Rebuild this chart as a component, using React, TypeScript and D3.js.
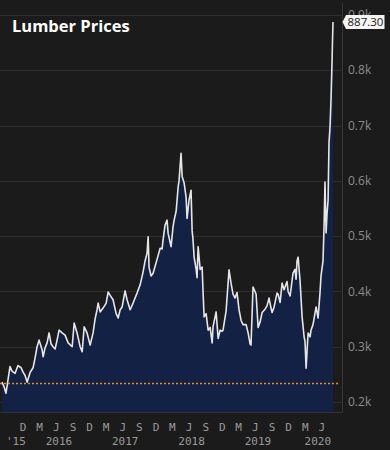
import React from "react";
import * as d3 from "d3";

const dates: string[] = [
  "2015-08-07","2015-08-18","2015-08-29","2015-09-09","2015-09-20","2015-10-01","2015-10-18","2015-11-03","2015-11-20","2015-12-01",
  "2015-12-12","2015-12-23","2016-01-09","2016-01-25","2016-02-05","2016-02-16","2016-02-27","2016-03-15","2016-03-20","2016-03-31",
  "2016-04-11","2016-04-22","2016-05-03","2016-05-14","2016-05-25","2016-06-05","2016-06-16","2016-07-03","2016-07-19","2016-08-05",
  "2016-08-27","2016-09-07","2016-09-23","2016-10-10","2016-10-21","2016-11-01","2016-11-17","2016-12-04","2016-12-20","2016-12-31",
  "2017-01-11","2017-01-17","2017-01-28","2017-02-13","2017-03-02","2017-03-13","2017-03-24","2017-04-09","2017-04-26","2017-05-07",
  "2017-05-18","2017-05-29","2017-06-14","2017-06-25","2017-07-12","2017-07-28","2017-08-19","2017-09-05","2017-09-21","2017-10-02",
  "2017-10-13","2017-10-19","2017-10-24","2017-11-04","2017-11-15","2017-11-26","2017-12-07","2017-12-24","2018-01-04","2018-01-09",
  "2018-01-20","2018-01-31","2018-02-06","2018-02-22","2018-03-05","2018-03-11","2018-03-22","2018-04-02","2018-04-07","2018-04-18",
  "2018-04-24","2018-05-05","2018-05-16","2018-05-21","2018-06-01","2018-06-12","2018-06-18","2018-06-23","2018-06-29","2018-07-10",
  "2018-07-15","2018-07-21","2018-08-01","2018-08-12","2018-08-17","2018-08-23","2018-09-03","2018-09-14","2018-09-25","2018-10-06",
  "2018-10-11","2018-10-28","2018-11-08","2018-11-19","2018-11-30","2018-12-05","2018-12-22","2019-01-07","2019-01-18","2019-01-29",
  "2019-02-09","2019-02-20","2019-03-03","2019-03-14","2019-03-25","2019-04-11","2019-04-22","2019-05-03","2019-05-08","2019-05-19",
  "2019-05-30","2019-06-05","2019-06-16","2019-06-27","2019-07-08","2019-07-24","2019-08-04","2019-08-15","2019-08-26","2019-09-01",
  "2019-09-12","2019-09-28","2019-10-04","2019-10-15","2019-10-26","2019-11-06","2019-11-11","2019-11-22","2019-11-28","2019-12-09",
  "2019-12-25","2020-01-05","2020-01-11","2020-01-16","2020-01-22","2020-02-02","2020-02-13","2020-02-24","2020-02-29","2020-03-06",
  "2020-03-11","2020-03-17","2020-03-28","2020-04-02","2020-04-13","2020-04-30","2020-05-11","2020-05-22","2020-05-27","2020-06-07",
  "2020-06-13","2020-06-18","2020-06-24","2020-06-29","2020-07-05","2020-07-10","2020-07-16","2020-07-21","2020-07-27","2020-07-29",
  "2020-08-01"
];

const prices: number[] = [
  236,228,216,240,264,256,252,266,262,254,
  248,236,254,262,280,300,312,294,282,298,
  307,325,305,300,296,312,330,325,321,307,
  300,343,325,300,291,336,325,303,325,350,
  367,379,363,370,379,399,393,385,360,352,
  367,372,401,385,367,379,397,412,435,455,
  469,499,444,428,433,445,458,478,477,493,
  520,529,505,481,517,529,545,589,600,650,
  608,596,570,532,565,583,510,493,462,440,
  425,481,440,444,400,354,360,330,335,307,
  336,363,315,330,328,330,365,439,415,395,
  388,398,367,348,340,340,325,305,303,408,
  400,395,335,345,362,368,374,388,370,362,
  372,397,395,380,415,403,408,418,400,392,
  433,440,422,455,462,418,354,318,310,261,
  290,325,318,330,340,372,352,400,428,455,
  520,598,506,540,565,669,700,746,819,850,
  887.3
];

const yTicks: number[] = [200, 300, 400, 500, 600, 700, 800, 900];
const yearLabels: string[] = ["'15", "2016", "2017", "2018", "2019", "2020"];
const referenceLevel = 235;
const title = "Lumber Prices";

const W = 390;
const H = 450;

export default function App() {
  const parse = d3.timeParse("%Y-%m-%d");
  const data = dates.map((d, i) => ({ date: parse(d) as Date, value: prices[i] }));
  const plotLeft = 0;
  const axisX = 342.5;
  const top = 15;
  const bottom = 412;

  const x = d3
    .scaleTime()
    .domain(d3.extent(data, (d) => d.date) as [Date, Date])
    .range([2, 333]);
  const y = d3.scaleLinear().domain([182, 900]).range([bottom, top]);

  const area = d3
    .area<{ date: Date; value: number }>()
    .x((d) => x(d.date))
    .y0(bottom)
    .y1((d) => y(d.value));
  const line = d3
    .line<{ date: Date; value: number }>()
    .x((d) => x(d.date))
    .y((d) => y(d.value));

  const [d0, d1] = x.domain();
  const months = d3
    .timeMonth.range(d0, d1)
    .filter((m) => m.getMonth() % 3 === 2 && x(m) > 12);
  const monthFmt = d3.timeFormat("%b");

  const firstYear = d0.getFullYear();
  const last = data[data.length - 1];

  const monoFont = "'DejaVu Sans Mono', monospace";
  const sansFont = "'Open Sans', 'Noto Sans', sans-serif";

  return (
    <svg
      width={W}
      height={H}
      style={{ position: "absolute", left: 0, top: 0, display: "block" }}
    >
      <rect x={0} y={0} width={W} height={H} fill="#1b1b1b" />
      {yTicks.map((t) => (
        <line
          key={t}
          x1={plotLeft}
          x2={axisX}
          y1={Math.round(y(t)) + 0.5}
          y2={Math.round(y(t)) + 0.5}
          stroke="#2f2f2f"
          strokeWidth={1}
        />
      ))}
      <line x1={plotLeft} x2={axisX} y1={bottom + 0.5} y2={bottom + 0.5} stroke="#333" />
      <path d={area(data) || ""} fill="#132244" />
      <path
        d={line(data) || ""}
        fill="none"
        stroke="#e6e6e6"
        strokeWidth={1.6}
        strokeLinejoin="round"
      />
      <line
        x1={plotLeft}
        x2={axisX - 3}
        y1={Math.round(y(referenceLevel)) + 0.5}
        y2={Math.round(y(referenceLevel)) + 0.5}
        stroke="#d98d3f"
        strokeWidth={1.5}
        strokeDasharray="2,2"
      />
      <line x1={axisX} x2={axisX} y1={3} y2={bottom + 1} stroke="#363636" strokeWidth={1} />

      {yTicks.map((t) => (
        <text
          key={"l" + t}
          x={348}
          y={y(t)}
          dy="0.35em"
          fontFamily={sansFont}
          fontSize={12}
          fill="#8c8c8c"
        >
          {(t / 1000).toFixed(1)}k
        </text>
      ))}

      {months.map((m) => (
        <text
          key={m.toISOString()}
          x={x(m)}
          y={431}
          textAnchor="middle"
          fontFamily={monoFont}
          fontSize={11}
          fill="#9a9a9a"
        >
          {monthFmt(m).charAt(0)}
        </text>
      ))}
      {yearLabels.map((lab, i) => {
        const yr = firstYear + i;
        let cx = x(new Date(yr, 5, 15));
        const half = lab.length * 3.3;
        if (cx - half < 6) cx = 6 + half;
        if (cx + half > 331) cx = 331 - half;
        return (
          <text
            key={lab}
            x={cx}
            y={445}
            textAnchor="middle"
            fontFamily={monoFont}
            fontSize={11}
            fill="#9a9a9a"
          >
            {lab}
          </text>
        );
      })}

      <text
        x={12}
        y={32}
        fontFamily={sansFont}
        fontWeight={700}
        fontSize={16.5}
        fill="#ffffff"
      >
        {title}
      </text>

      <g transform={`translate(0, ${y(last.value)})`}>
        <path d="M342.5,0 L346,-7 L384.5,-7 L384.5,7 L346,7 Z" fill="#f4f4f4" />
        <text
          x={365.5}
          y={0}
          dy="0.36em"
          textAnchor="middle"
          fontFamily={sansFont}
          fontSize={11.5}
          fill="#1b1b1b"
        >
          {last.value.toFixed(2)}
        </text>
      </g>
    </svg>
  );
}
